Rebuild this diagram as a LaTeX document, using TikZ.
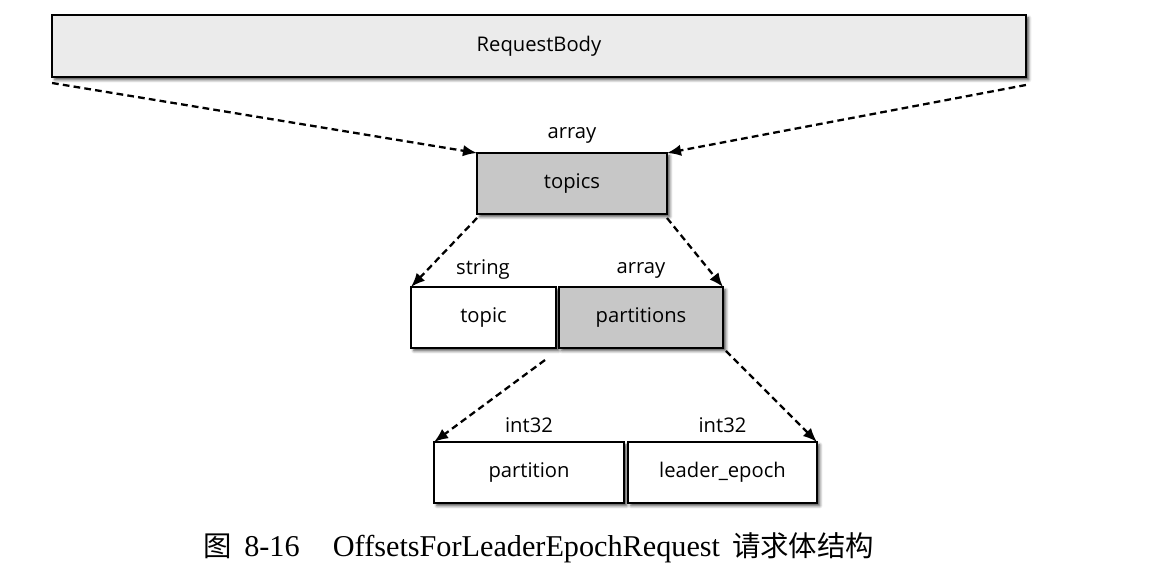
\documentclass[tikz,border=0pt]{standalone}
\usepackage{fontspec}
\setmainfont{Liberation Serif}
\newfontfamily\boxfont{Open Sans}
\newfontfamily\cjk{Noto Sans CJK SC}[Scale=0.94]
\usetikzlibrary{arrows.meta,shadows.blur}

\begin{document}
\begin{tikzpicture}[x=0.02cm,y=-0.02cm]

      \useasboundingbox (0,0) rectangle (1156,582);

      \begin{scope}[every node/.style={draw,line width=0.9pt,inner sep=0pt,outer sep=0pt,
          minimum height=1.22cm,font=\boxfont\fontsize{11.5}{13}\selectfont,
          blur shadow={shadow xshift=1.6pt,shadow yshift=-1.6pt,shadow blur radius=1.6pt,shadow opacity=70}}]
        \node[fill=black!8,minimum width=19.48cm,minimum height=1.24cm] (body) at (539,46) {RequestBody};
        \node[fill=black!22,minimum width=3.8cm]  (topics)     at (572,183.5) {topics};
        \node[fill=white,minimum width=2.9cm]     (topic)      at (483.5,317.5) {topic};
        \node[fill=black!22,minimum width=3.28cm] (partitions) at (641,317.5) {partitions};
        \node[fill=white,minimum width=3.8cm]     (partition)  at (529,472.5) {partition};
        \node[fill=white,minimum width=3.78cm]    (leader)     at (722.5,472.5) {leader\_epoch};
      \end{scope}

      \begin{scope}[every node/.style={font=\boxfont\fontsize{11.5}{13}\selectfont}]
        \node (topicstype)     at (572,135)   {array};
        \node (topictype)      at (483,270)   {string};
        \node (partitionstype) at (641,270)   {array};
        \node (partitiontype)  at (529,425)   {int32};
        \node (leadertype)     at (722.5,425) {int32};
      \end{scope}

      \begin{scope}[every edge/.style={draw,line width=1.3pt,dash pattern=on 3.8pt off 2.4pt,
          -{Latex[length=8pt,width=6.5pt]}}]
        \path ([yshift=-0.12cm]body.south west) edge (topics.north west);
        \path ([yshift=-0.16cm]body.south east) edge (topics.north east);
        \path ([yshift=-0.08cm]topics.south west) edge (topic.north west);
        \path ([yshift=-0.08cm]topics.south east) edge (partitions.north east);
        \path ([xshift=-0.28cm,yshift=-0.24cm]partitions.south west) edge (partition.north west);
        \path ([xshift=0.06cm,yshift=-0.06cm]partitions.south east) edge (leader.north east);
      \end{scope}

      \node (caption) at (539,548) {\fontsize{17.2}{19}\selectfont{\cjk 图}\hspace{0.4em}8-16\hspace{1.1em}OffsetsForLeaderEpochRequest\hspace{0.4em}{\cjk 请求体结构}};

    \end{tikzpicture}
\end{document}
